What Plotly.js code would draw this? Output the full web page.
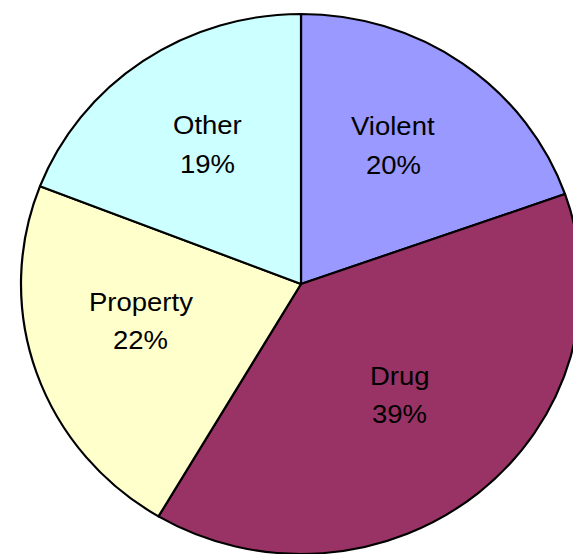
<!DOCTYPE html>
<html>
<head>
<meta charset="utf-8">
<script src="https://cdn.plot.ly/plotly-3.0.1.min.js"></script>
<style>
html,body{margin:0;padding:0;background:#fff;overflow:hidden;width:573px;height:554px;}
#chart{position:absolute;left:0;top:0;width:620px;height:600px;transform-origin:0 0;transform:scaleY(0.9643);}
</style>
</head>
<body>
<div id="chart"></div>
<script>
const categories = ["Violent", "Drug", "Property", "Other"];
const shares = [19.6, 38.9, 22.4, 19.1];
const colors = ["#9999FF", "#993366", "#FFFFCC", "#CCFFFF"];

const W = 620, H = 600, SY = 0.9643;
// label anchor points (page pixels) for each slice label
const labelPx = [[393, 145], [399.5, 395], [140.5, 321], [207, 144]];

const trace = {
  type: "pie",
  labels: categories,
  values: shares,
  sort: false,
  direction: "clockwise",
  rotation: 0,
  marker: {colors: colors, line: {color: "#000000", width: 2.2}},
  textinfo: "none",
  hoverinfo: "none",
  domain: {x: [21/W, 581/W], y: [25.5/H, 585.5/H]}
};

const total = shares.reduce((a, b) => a + b, 0);
const font = {family: "Liberation Sans, Arial, sans-serif", size: 27.5, color: "#000000"};
const annotations = [];
categories.forEach((c, i) => {
  const px = labelPx[i][0], py = labelPx[i][1];
  annotations.push({
    xref: "paper", yref: "paper", x: px / W, y: 1 - ((py - 19) / SY) / H,
    xanchor: "center", yanchor: "middle", showarrow: false,
    text: c, font: font
  });
  annotations.push({
    xref: "paper", yref: "paper", x: px / W, y: 1 - ((py + 19) / SY) / H,
    xanchor: "center", yanchor: "middle", showarrow: false,
    text: Math.round(shares[i] / total * 100) + "%", font: font
  });
});

Plotly.newPlot("chart", [trace], {
  width: W, height: H,
  margin: {l: 0, r: 0, t: 0, b: 0},
  showlegend: false,
  paper_bgcolor: "#ffffff",
  annotations: annotations
}, {staticPlot: true, displayModeBar: false});
</script>
</body>
</html>
